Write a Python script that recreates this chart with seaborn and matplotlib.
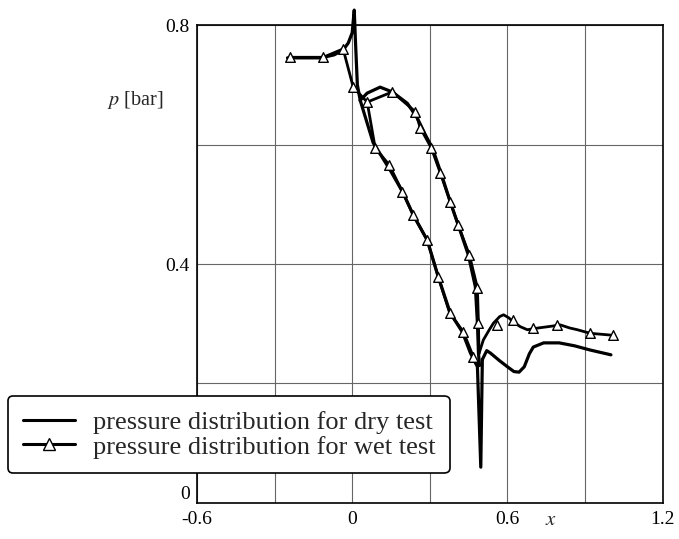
import numpy as np
import pandas as pd
import matplotlib
matplotlib.use('Agg')
import matplotlib.pyplot as plt
import seaborn as sns
from matplotlib.lines import Line2D

# dry test
dry_front_x = [-0.25, -0.18, -0.12, -0.07, -0.035, -0.015, 0.0, 0.008, 0.013, 0.02, 0.031]
dry_front_p = [0.745, 0.745, 0.745, 0.75, 0.758, 0.77, 0.787, 0.825, 0.77, 0.70, 0.674]
dry_lower_x = [0.031, 0.081, 0.147, 0.197, 0.236, 0.29, 0.333, 0.379, 0.426, 0.457, 0.484, 0.497, 0.503]
dry_lower_p = [0.674, 0.603, 0.557, 0.519, 0.482, 0.44, 0.378, 0.318, 0.286, 0.251, 0.228, 0.06, 0.24]
dry_upper_x = [0.031, 0.058, 0.108, 0.155, 0.213, 0.252, 0.283, 0.31, 0.345, 0.379, 0.41, 0.449, 0.476, 0.484, 0.488, 0.492]
dry_upper_p = [0.674, 0.686, 0.696, 0.688, 0.669, 0.644, 0.616, 0.594, 0.55, 0.504, 0.465, 0.415, 0.362, 0.301, 0.251, 0.23]
dry_rear_x = [0.503, 0.52, 0.534, 0.57, 0.60, 0.625, 0.645, 0.665, 0.685, 0.70, 0.74, 0.80, 0.86, 0.92, 1.0]
dry_rear_p = [0.24, 0.255, 0.251, 0.238, 0.228, 0.22, 0.219, 0.228, 0.25, 0.261, 0.268, 0.268, 0.263, 0.256, 0.248]

# wet test line
wet_front_x = [-0.24, -0.112, -0.035, 0.004]
wet_front_p = [0.746, 0.746, 0.76, 0.696]
wet_lower_x = [0.004, 0.058, 0.089, 0.143, 0.194, 0.236, 0.29, 0.333, 0.377, 0.43, 0.468, 0.49]
wet_lower_p = [0.696, 0.671, 0.594, 0.566, 0.521, 0.482, 0.44, 0.378, 0.318, 0.286, 0.245, 0.23]
wet_upper_x = [0.058, 0.155, 0.244, 0.263, 0.306, 0.341, 0.379, 0.41, 0.453, 0.484, 0.488, 0.49]
wet_upper_p = [0.671, 0.688, 0.655, 0.628, 0.594, 0.552, 0.504, 0.465, 0.415, 0.36, 0.301, 0.25]
wet_rear_x = [0.49, 0.507, 0.53, 0.546, 0.57, 0.585, 0.605, 0.623, 0.65, 0.677, 0.72, 0.755, 0.805, 0.84, 0.87, 0.92, 1.0]
wet_rear_p = [0.25, 0.273, 0.29, 0.301, 0.312, 0.315, 0.31, 0.303, 0.295, 0.29, 0.293, 0.295, 0.298, 0.293, 0.29, 0.284, 0.281]

# triangle markers of the wet test
wet_mark_x = [-0.24, -0.112, -0.035, 0.004, 0.058, 0.089, 0.143, 0.194, 0.236, 0.29, 0.333, 0.377, 0.43, 0.468,
              0.155, 0.244, 0.263, 0.306, 0.341, 0.379, 0.41, 0.453, 0.484, 0.488,
              0.56, 0.62, 0.697, 0.79, 0.92, 1.006]
wet_mark_p = [0.746, 0.746, 0.76, 0.696, 0.671, 0.594, 0.566, 0.521, 0.482, 0.44, 0.378, 0.318, 0.286, 0.245,
              0.688, 0.655, 0.628, 0.594, 0.552, 0.504, 0.465, 0.415, 0.36, 0.301,
              0.298, 0.306, 0.293, 0.298, 0.284, 0.281]

x_ticks = [-0.6, -0.3, 0, 0.3, 0.6, 0.9, 1.2]
x_labels = ['-0.6', '', '0', '', '0.6', '', '1.2']
y_ticks = [0, 0.2, 0.4, 0.6, 0.8]
y_labels = ['0', '', '0.4', '', '0.8']


def segments(parts):
    frames = []
    for name, xs, ps in parts:
        frames.append(pd.DataFrame({'x': xs, 'p': ps, 'seg': name}))
    return pd.concat(frames, ignore_index=True)


dry = segments([('front', dry_front_x, dry_front_p), ('lower', dry_lower_x, dry_lower_p),
                ('upper', dry_upper_x, dry_upper_p), ('rear', dry_rear_x, dry_rear_p)])
wet = segments([('front', wet_front_x, wet_front_p), ('lower', wet_lower_x, wet_lower_p),
                ('upper', wet_upper_x, wet_upper_p), ('rear', wet_rear_x, wet_rear_p)])
marks = pd.DataFrame({'x': wet_mark_x, 'p': wet_mark_p})

sns.set_style('white')
plt.rcParams['font.family'] = ['Liberation Serif', 'DejaVu Serif']
plt.rcParams['mathtext.fontset'] = 'stix'

fig = plt.figure(figsize=(6.79, 5.39), dpi=100)
ax = fig.add_axes([0.290, 0.0668, 0.686, 0.8868])

sns.lineplot(data=dry, x='x', y='p', units='seg', estimator=None, sort=False,
             color='black', lw=2.3, ax=ax, zorder=3, clip_on=False)
sns.lineplot(data=wet, x='x', y='p', units='seg', estimator=None, sort=False,
             color='black', lw=2.0, ax=ax, zorder=3)
sns.scatterplot(data=marks, x='x', y='p', marker='^', s=48, facecolor='white',
                edgecolor='black', linewidth=1.0, ax=ax, zorder=4)

ax.set_xlim(-0.6, 1.2)
ax.set_ylim(0, 0.8)
ax.set_xticks(x_ticks)
ax.set_xticklabels(x_labels)
ax.set_yticks(y_ticks)
ax.set_yticklabels(y_labels)
ax.tick_params(length=0, labelsize=14, colors='black')
ax.tick_params(axis='x', pad=6)
ax.tick_params(axis='y', pad=5)
ax.get_yticklabels()[0].set_va('bottom')
ax.grid(True, color='#666666', lw=0.8)
ax.set_axisbelow(True)
for s in ax.spines.values():
    s.set_visible(True)
    s.set_color('black')
    s.set_linewidth(1.2)
ax.set_xlabel('')
ax.set_ylabel('')

fig.text(0.157, 0.815, '$p$ [bar]', fontsize=14.5, ha='left', va='center')
fig.text(0.811, 0.035, '$x$', fontsize=15, ha='center', va='center')

handles = [Line2D([], [], color='black', lw=2.2),
           Line2D([], [], color='black', lw=2.2, marker='^', markersize=8,
                  markerfacecolor='white', markeredgecolor='black', markeredgewidth=1.0)]
leg = fig.legend(handles, ['pressure distribution for dry test', 'pressure distribution for wet test'],
                 loc='lower left', bbox_to_anchor=(0.012, 0.122), borderaxespad=0,
                 fontsize=19, handlelength=2.0, handletextpad=0.65, labelspacing=0.05,
                 frameon=True, fancybox=True, framealpha=1, edgecolor='black', borderpad=0.55)
leg.get_frame().set_linewidth(1.2)

fig.savefig('out.png', dpi=100)
